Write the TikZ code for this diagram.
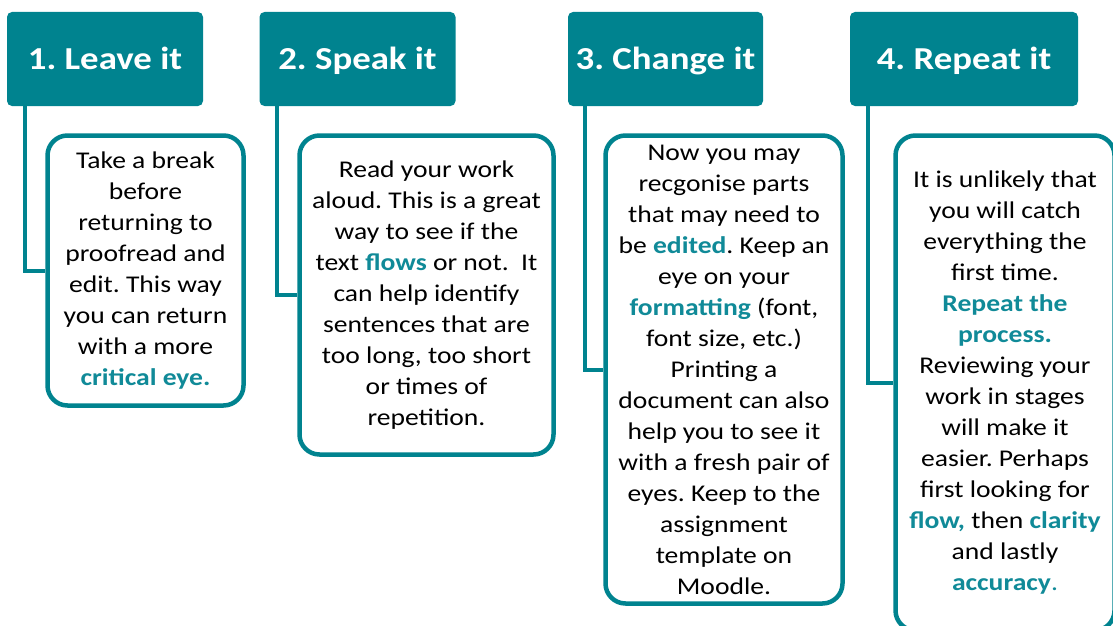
\documentclass[tikz,border=0pt]{standalone}
\usepackage{fontspec}
\setmainfont{Carlito}[FakeStretch=1.15]
\definecolor{headteal}{RGB}{0, 131, 143}
\definecolor{wordteal}{RGB}{16, 138, 152}
\usetikzlibrary{positioning}
\newcommand{\keyword}[1]{\textbf{\textcolor{wordteal}{#1}}}
\frenchspacing

\begin{document}
\begin{tikzpicture}[x=1pt, y=-1pt,
  headbox/.style={fill=headteal, rounded corners=5pt, text=white, font=\fontsize{32pt}{38pt}\selectfont\bfseries, minimum height=94pt, text height=21pt, text depth=0pt},
  textbox/.style={draw=headteal, line width=4.5pt, fill=white, rounded corners=20pt, align=center, inner sep=2pt, font=\fontsize{24pt}{31pt}\selectfont},
  joinline/.style={draw=headteal, line width=4pt}]
  \useasboundingbox (0,0) rectangle (1113,626);

  % Stage headers
  \node[headbox, minimum width=196pt] (lead1) at (105,59) {1. Leave it};
  \node[headbox, minimum width=196pt] (lead2) at (357.5,59) {2. Speak it};
  \node[headbox, minimum width=195pt] (lead3) at (665.5,59) {3. Change it};
  \node[headbox, minimum width=228pt] (lead4) at (964,59) {4. Repeat it};

  % Advice boxes
  \node[textbox, minimum width=196pt, minimum height=270pt] (tip1) at (145.5,270.5) {
    Take a break\\
    before\\
    returning to\\
    proofread and\\
    edit. This way\\
    you can return\\
    with a more\\
    \keyword{critical eye.}
  };
  \node[textbox, minimum width=254pt, minimum height=319pt] (tip2) at (426.5,295) {
    Read your work\\
    aloud. This is a great\\
    way to see if the\\
    text \keyword{flows} or not.\ \ It\\
    can help identify\\
    sentences that are\\
    too long, too short\\
    or times of\\
    repetition.
  };
  \node[textbox, minimum width=237pt, minimum height=468pt] (tip3) at (724,369.5) {
    Now you may\\
    recgonise parts\\
    that may need to\\
    be \keyword{edited}. Keep an\\
    eye on your\\
    \keyword{formatting} (font,\\
    font size, etc.)\\
    Printing a\\
    document can also\\
    help you to see it\\
    with a fresh pair of\\
    eyes. Keep to the\\
    assignment\\
    template on\\
    Moodle.
  };
  \node[textbox, minimum width=219pt, minimum height=495pt] (tip4) at (1005,383) {
    It is unlikely that\\
    you will catch\\
    everything the\\
    first time.\\
    \keyword{Repeat the}\\
    \keyword{process.}\\
    Reviewing your\\
    work in stages\\
    will make it\\
    easier. Perhaps\\
    first looking for\\
    \keyword{flow,} then \keyword{clarity}\\
    and lastly\\
    \keyword{accuracy}\textcolor{wordteal}{.}
  };

  % Connectors
  \draw[joinline] ([xshift=18pt]lead1.south west) |- (tip1.west);
  \draw[joinline] ([xshift=18pt]lead2.south west) |- (tip2.west);
  \draw[joinline] ([xshift=17pt]lead3.south west) |- (tip3.west);
  \draw[joinline] ([xshift=18pt]lead4.south west) |- (tip4.west);
\end{tikzpicture}
\end{document}
